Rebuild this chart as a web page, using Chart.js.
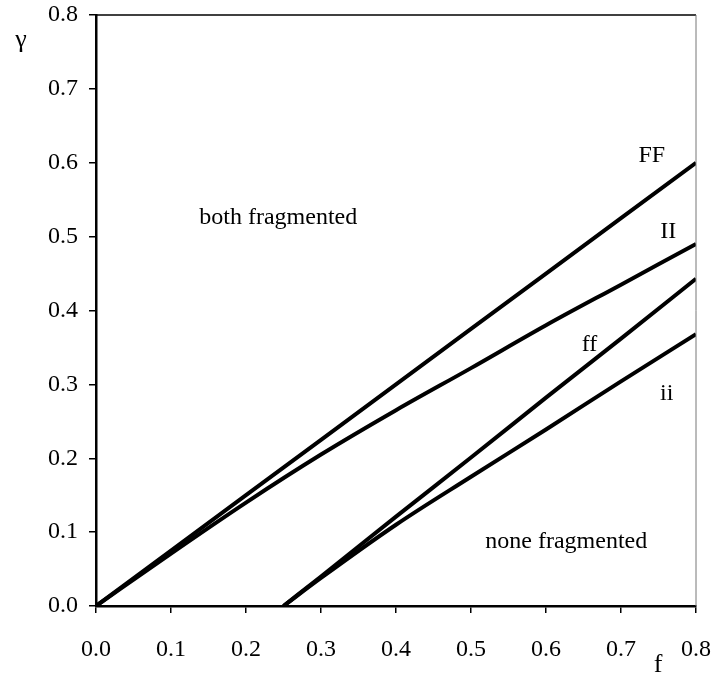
<!DOCTYPE html>
<html>
<head>
<meta charset="utf-8">
<script src="https://cdn.jsdelivr.net/npm/chart.js@4/dist/chart.umd.min.js"></script>
<style>
  html, body { margin: 0; padding: 0; background: #fff; }
  #wrap { width: 717px; height: 684px; }
</style>
</head>
<body>
<div id="wrap"><canvas id="chart" width="717" height="684"></canvas></div>
<script>
// curves: f on x, gamma on y
const fFull = [0, 0.1, 0.2, 0.3, 0.4, 0.5, 0.6, 0.7, 0.8];
const gammaFF = [0, 0.075, 0.15, 0.225, 0.30, 0.375, 0.45, 0.525, 0.60];
const gammaII = [0, 0.071, 0.140, 0.205, 0.265, 0.322, 0.380, 0.435, 0.490];
const fLow = [0.25, 0.3, 0.4, 0.5, 0.6, 0.7, 0.8];
const gammaff = [0, 0.040, 0.121, 0.201, 0.282, 0.362, 0.443];
const gammaii = [0, 0.038, 0.110, 0.175, 0.239, 0.304, 0.368];
const xTicks = [0, 0.1, 0.2, 0.3, 0.4, 0.5, 0.6, 0.7, 0.8];
const yTicks = [0, 0.1, 0.2, 0.3, 0.4, 0.5, 0.6, 0.7, 0.8];

// text placed inside the plot, in data coordinates
const notes = [
  { text: 'FF', x: 0.741, y: 0.610 },
  { text: 'II', x: 0.763, y: 0.507 },
  { text: 'ff', x: 0.658, y: 0.354 },
  { text: 'ii', x: 0.761, y: 0.288 },
  { text: 'both fragmented', x: 0.243, y: 0.526 },
  { text: 'none fragmented', x: 0.627, y: 0.087 }
];

const serif = '"Liberation Serif", "DejaVu Serif", serif';

function toPoints(xs, ys) {
  return xs.map((x, i) => ({ x: x, y: ys[i] }));
}

function lineSet(label, xs, ys) {
  return {
    label: label,
    data: toPoints(xs, ys),
    borderColor: '#000',
    borderWidth: 4,
    pointRadius: 0,
    fill: false,
    cubicInterpolationMode: 'monotone'
  };
}

const framePlugin = {
  id: 'frame',
  afterDraw(chart) {
    const ctx = chart.ctx;
    const a = chart.chartArea;
    const xs = chart.scales.x, ys = chart.scales.y;
    ctx.save();
    // top border
    ctx.strokeStyle = '#000';
    ctx.lineWidth = 1.5;
    ctx.beginPath();
    ctx.moveTo(a.left, a.top);
    ctx.lineTo(a.right, a.top);
    ctx.stroke();
    // right border
    ctx.strokeStyle = '#777';
    ctx.lineWidth = 1;
    ctx.beginPath();
    ctx.moveTo(a.right, a.top);
    ctx.lineTo(a.right, a.bottom);
    ctx.stroke();

    ctx.fillStyle = '#000';
    ctx.font = '24px ' + serif;
    ctx.textAlign = 'center';
    ctx.textBaseline = 'middle';
    notes.forEach(n => {
      ctx.fillText(n.text, xs.getPixelForValue(n.x), ys.getPixelForValue(n.y));
    });
    // axis titles
    ctx.font = '26px ' + serif;
    ctx.fillText('\u03b3', 21, 40);
    ctx.fillText('f', 658, 665);
    ctx.restore();
  }
};

new Chart(document.getElementById('chart'), {
  type: 'line',
  data: {
    datasets: [
      lineSet('FF', fFull, gammaFF),
      lineSet('II', fFull, gammaII),
      lineSet('ff', fLow, gammaff),
      lineSet('ii', fLow, gammaii)
    ]
  },
  options: {
    responsive: false,
    animation: false,
    layout: { padding: { top: 15, right: 21, left: 0, bottom: 0 } },
    plugins: { legend: { display: false }, tooltip: { enabled: false } },
    scales: {
      x: {
        type: 'linear',
        min: 0,
        max: 0.8,
        afterBuildTicks: s => { s.ticks = xTicks.map(v => ({ value: v })); },
        afterFit: s => { s.height = 78; s.paddingLeft = 0; s.paddingRight = 0; },
        ticks: {
          color: '#000',
          font: { family: serif, size: 24 },
          padding: 22,
          maxRotation: 0,
          callback: v => v.toFixed(1)
        },
        grid: { drawOnChartArea: false, tickLength: 7, color: '#000', lineWidth: 1.5 },
        border: { color: '#000', width: 2.5 }
      },
      y: {
        type: 'linear',
        min: 0,
        max: 0.8,
        afterBuildTicks: s => { s.ticks = yTicks.map(v => ({ value: v })); },
        afterFit: s => { s.width = 96; s.paddingTop = 0; s.paddingBottom = 0; },
        ticks: {
          color: '#000',
          font: { family: serif, size: 24 },
          padding: 11,
          callback: v => v.toFixed(1)
        },
        grid: { drawOnChartArea: false, tickLength: 7, color: '#000', lineWidth: 1.5 },
        border: { color: '#000', width: 2.5 }
      }
    }
  },
  plugins: [framePlugin]
});
</script>
</body>
</html>
